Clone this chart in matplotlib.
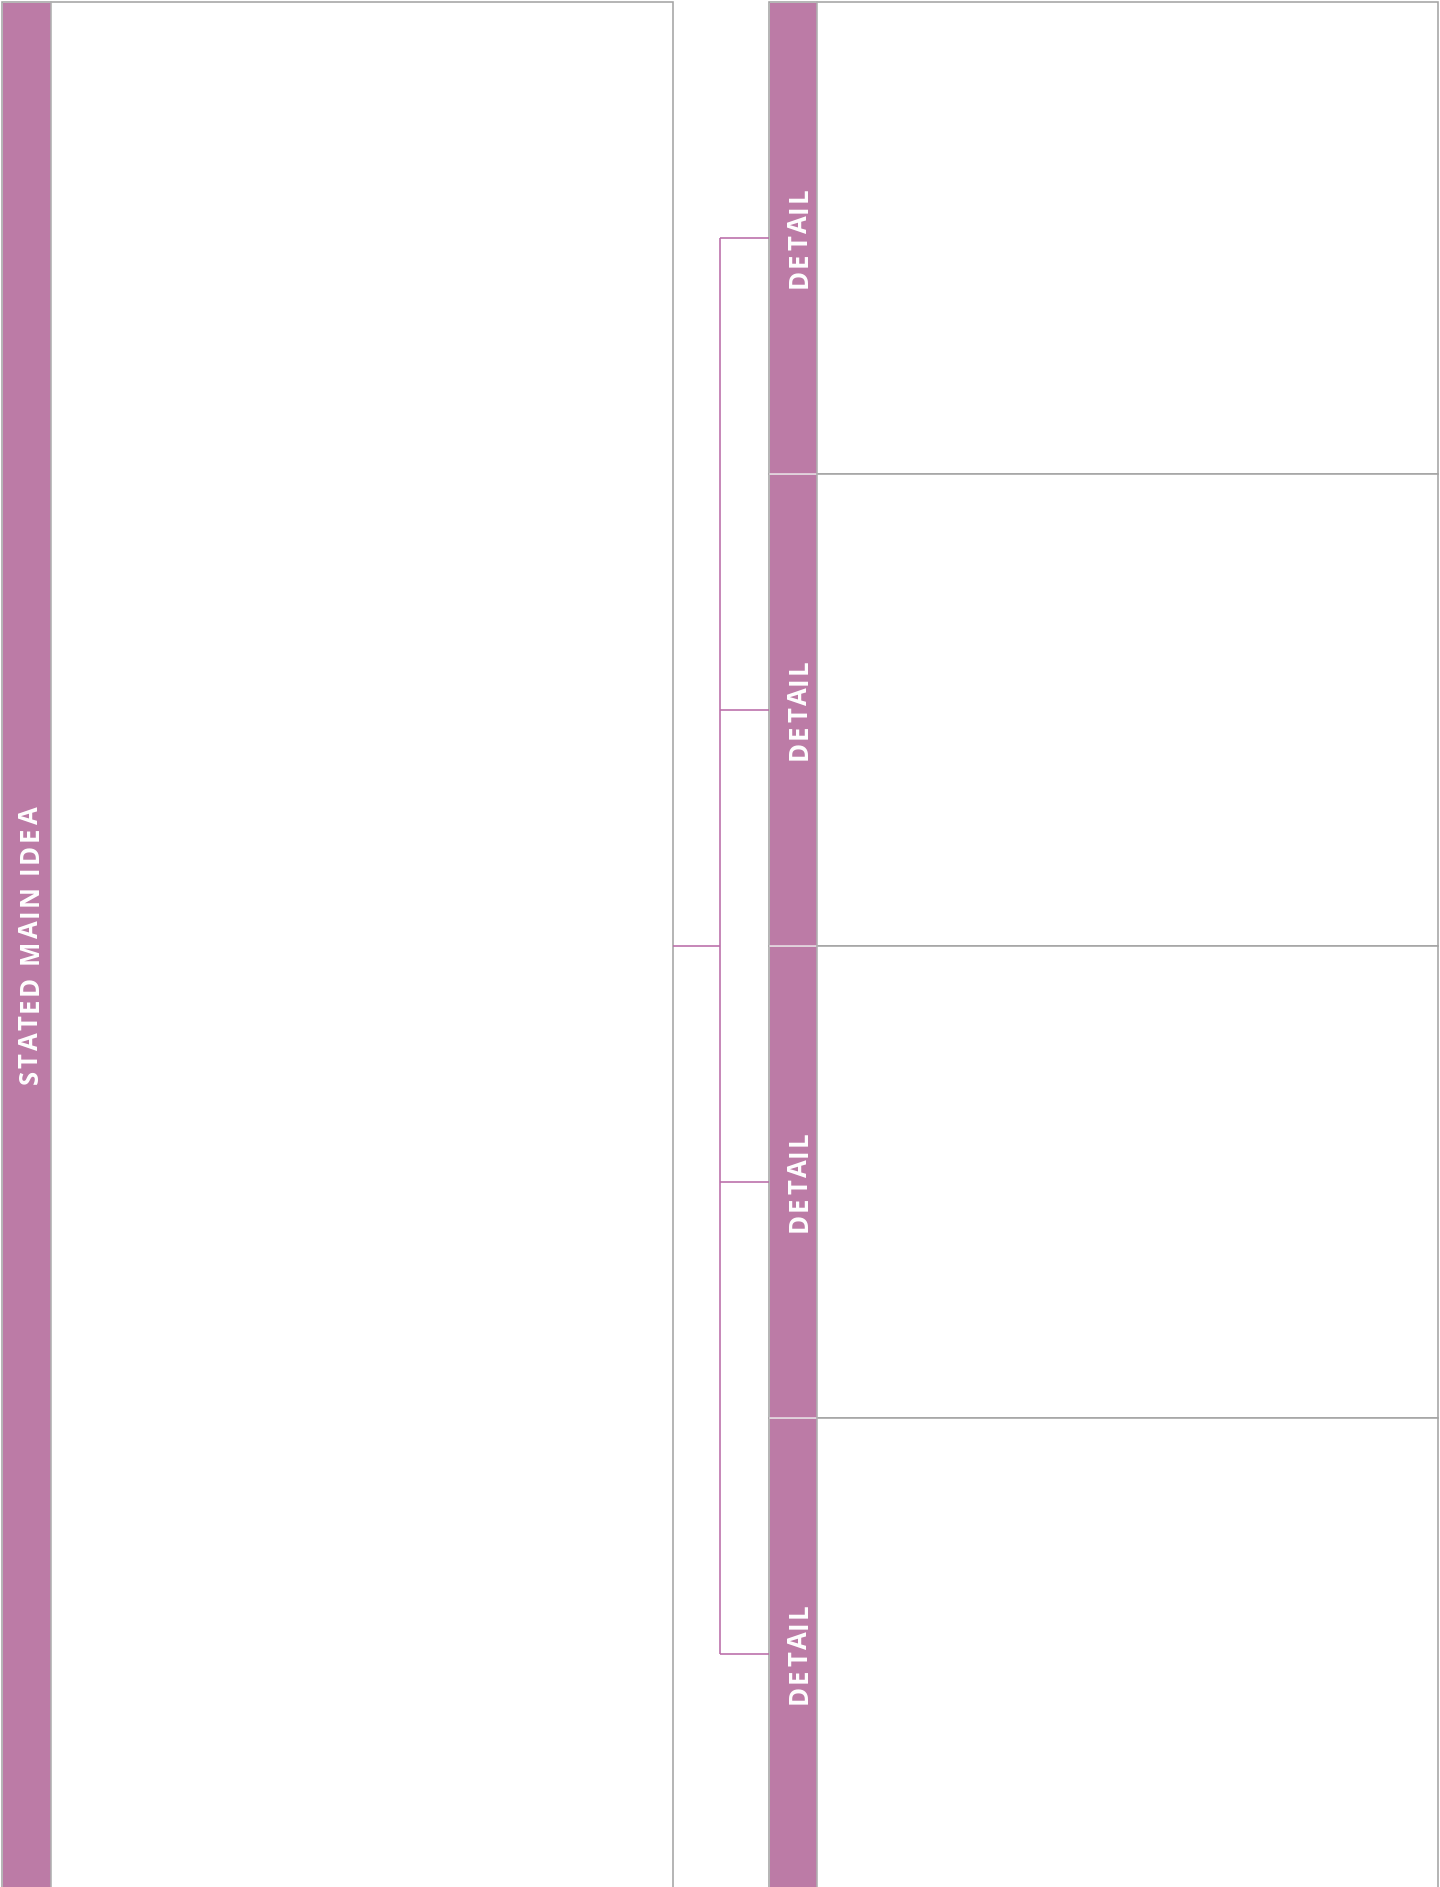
import matplotlib
matplotlib.use("Agg")
import matplotlib.pyplot as plt
from matplotlib.patches import Rectangle
from matplotlib.font_manager import FontProperties

# ---- content ----
main_label = "STATED MAIN IDEA"
detail_labels = ["DETAIL", "DETAIL", "DETAIL", "DETAIL"]

# ---- style ----
PURPLE = "#BC7BA6"
LINE = "#BA6DA8"
GRAY = "#A4A4A4"
SEP = "#E9DCE5"

W, H, DPI = 1440, 1887, 100
fig = plt.figure(figsize=(W / DPI, H / DPI), dpi=DPI)
ax = fig.add_axes([0, 0, 1, 1])
ax.set_xlim(0, W)
ax.set_ylim(H, 0)
ax.axis("off")

LW = 1.6 * 72 / DPI  # ~1.6 px

# left box
top = 2
ax.add_patch(Rectangle((2, top), 671, 2000, facecolor="white", edgecolor=GRAY, lw=LW, zorder=1))
ax.add_patch(Rectangle((3, top + 1), 48, 2000, facecolor=PURPLE, edgecolor="none", zorder=2))
ax.plot([51, 51], [top, H + 5], color="#B0B0B0", lw=LW, zorder=3)

# right boxes
row_h = 472
n = len(detail_labels)
rx0, rx1, px1 = 769, 1438, 817
for i in range(n):
    y0 = top + i * row_h
    ax.add_patch(Rectangle((rx0, y0), rx1 - rx0, row_h, facecolor="white", edgecolor=GRAY, lw=LW, zorder=1))
for i in range(n):
    y0 = top + i * row_h
    ax.add_patch(Rectangle((rx0 + 1, y0 + 1), px1 - rx0 - 1, row_h - 1, facecolor=PURPLE, edgecolor="none", zorder=2))
    if i > 0:
        ax.plot([rx0 + 1, px1 - 1], [y0, y0], color=SEP, lw=LW, zorder=3)
ax.plot([px1, px1], [top, H + 5], color="#B0B0B0", lw=LW, zorder=3)

# connectors
vx = 720
mids = [top + row_h * (i + 0.5) for i in range(n)]
main_mid = top + row_h * n / 2
ax.plot([673, vx], [main_mid, main_mid], color=LINE, lw=LW, zorder=4, solid_capstyle="butt")
ax.plot([vx, vx], [mids[0], mids[-1]], color=LINE, lw=LW, zorder=4, solid_capstyle="butt")
for m in mids:
    ax.plot([vx, rx0], [m, m], color=LINE, lw=LW, zorder=4, solid_capstyle="butt")

# letter-spaced vertical text (one real text object per character)
prop = FontProperties(family=["Open Sans", "DejaVu Sans"], weight="bold", size=18.5)
renderer = fig.canvas.get_renderer()


def w_px(s):
    if not s:
        return 0.0
    return renderer.get_text_width_height_descent(s, prop, ismath=False)[0]


def adv(c):
    if c == " ":
        return w_px("I I") - w_px("II")
    return w_px(c + c) - w_px(c)


def spaced_vertical(label, base_x, center_y, target_px):
    advs = [adv(c) for c in label]
    k = len(label)
    sp = (target_px + 2 - sum(advs)) / (k - 1)
    L = sum(advs) + (k - 1) * sp
    start = center_y + L / 2
    pen = 0.0
    for c, a in zip(label, advs):
        if c != " ":
            ax.text(base_x, start - (pen + a / 2), c, fontproperties=prop, color="white",
                    rotation=90, rotation_mode="anchor", ha="center", va="baseline", zorder=5)
        pen += a + sp


spaced_vertical(main_label, 38.0, 945.5, 276)
for lab, m in zip(detail_labels, mids):
    spaced_vertical(lab, 807.0, m, 99)

fig.savefig("out.png", dpi=DPI)
